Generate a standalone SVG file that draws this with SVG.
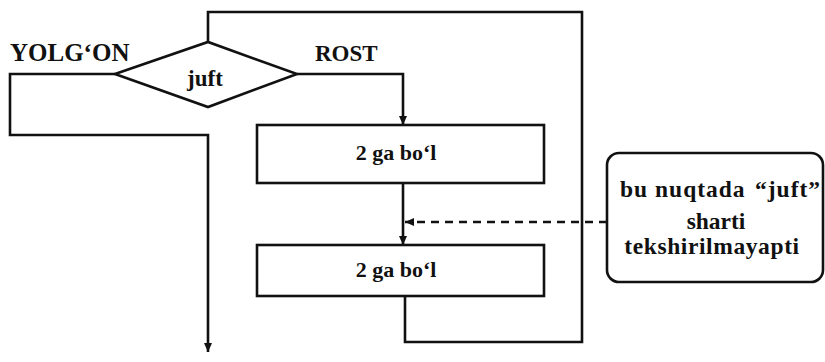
<svg xmlns="http://www.w3.org/2000/svg" width="825" height="362" viewBox="0 0 825 362">
<style>
.s{fill:none;stroke:#111;stroke-width:2.6}
.b{fill:#fff;stroke:#111;stroke-width:2.6}
.t{font-family:"Liberation Serif","Times New Roman",serif;font-weight:bold;font-size:22px;fill:#111}
.c{text-anchor:middle}
.n{font-size:23.5px}
</style>
<defs>
<marker id="ah" markerWidth="10" markerHeight="12" refX="9" refY="5" orient="auto" markerUnits="userSpaceOnUse">
<path d="M0,1 L9,5 L0,9 Z" fill="#111"/>
</marker>
</defs>
<rect width="825" height="362" fill="#fff"/>
<g id="connectors">
<path class="s" d="M208,42 V12 H582 V342 H405 V297"/>
<path class="s" d="M115,74 H10 V135 H208 V352" marker-end="url(#ah)"/>
<path class="s" d="M297,74 H403 V125" marker-end="url(#ah)"/>
<path class="s" d="M403,183 V245" marker-end="url(#ah)"/>
<path class="s" d="M607,222 H405" stroke-dasharray="8,6" marker-end="url(#ah)"/>
</g>
<g id="label-yolgon"><text class="t" x="10" y="61" style="font-size:25px">YOLG‘ON</text></g>
<g id="label-rost"><text class="t" x="315" y="61" style="font-size:23px">ROST</text></g>
<g id="decision">
<polygon class="b" points="115,74 208,42 297,74 208,107"/>
<text class="t c" x="205" y="86" style="font-size:23px">juft</text>
</g>
<g id="box1">
<rect class="b" x="257" y="125" width="287" height="58"/>
<text class="t c" x="396" y="160">2 ga bo‘l</text>
</g>
<g id="box2">
<rect class="b" x="257" y="245" width="287" height="51"/>
<text class="t c" x="396" y="277">2 ga bo‘l</text>
</g>
<g id="note">
<rect class="b" x="607" y="153" width="216" height="129" rx="12" ry="12"/>
<text class="t n" y="197"><tspan x="620" letter-spacing="1">bu nuqtada</tspan><tspan x="755" letter-spacing="1">“juft”</tspan></text>
<text class="t c n" x="716" y="229">sharti</text>
<text class="t c n" x="712" y="254" letter-spacing="0.6">tekshirilmayapti</text>
</g>
</svg>
